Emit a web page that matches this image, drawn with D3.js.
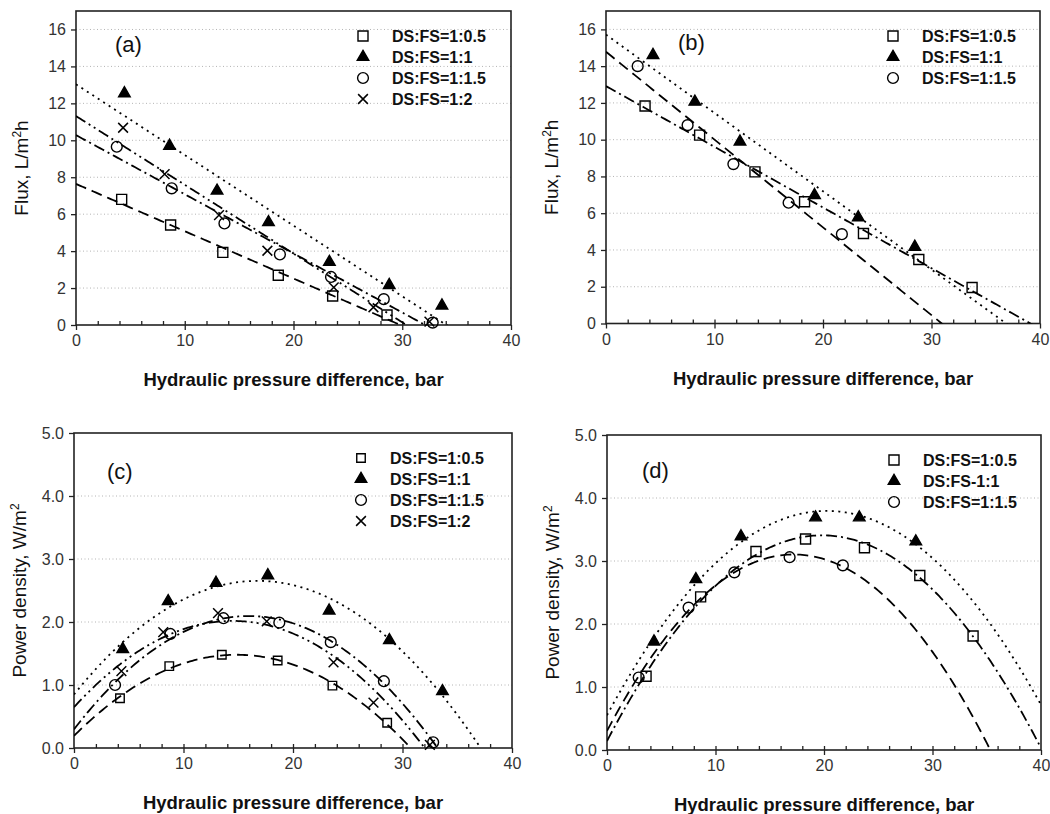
<!DOCTYPE html>
<html>
<head>
<meta charset="utf-8">
<script src="https://cdn.jsdelivr.net/npm/d3@7"></script>
<style>
  body { margin: 0; background: #fff; }
  svg { display: block; font-family: "Liberation Sans", Arial, sans-serif; }
</style>
</head>
<body>
<svg id="chart" width="1050" height="814"></svg>
<script>
// ---- labels / ticks ----
var legendAC = ['DS:FS=1:0.5', 'DS:FS=1:1', 'DS:FS=1:1.5', 'DS:FS=1:2'];
var legendB = ['DS:FS=1:0.5', 'DS:FS=1:1', 'DS:FS=1:1.5'];
var legendD = ['DS:FS=1:0.5', 'DS:FS-1:1', 'DS:FS=1:1.5'];
var xTicks = [0, 10, 20, 30, 40];
var fluxTicks = [0, 2, 4, 6, 8, 10, 12, 14, 16];
var powerTicks = [0, 1, 2, 3, 4, 5];

// ---- set 1 (panels a, c): hydraulic pressure, bar ----
var p1Half = [4.2, 8.7, 13.5, 18.6, 23.6, 28.6];
var p1One = [4.45, 8.6, 12.97, 17.7, 23.3, 28.8, 33.65];
var p1OneHalf = [3.75, 8.8, 13.65, 18.75, 23.45, 28.3, 32.8];
var p1Two = [4.33, 8.15, 13.15, 17.6, 23.7, 27.35, 32.5];

// flux, L/m2h
var j1Half = [6.8, 5.41, 3.93, 2.69, 1.57, 0.54];
var j1One = [12.54, 9.7, 7.27, 5.56, 3.41, 2.16, 1.05];
var j1OneHalf = [9.65, 7.4, 5.5, 3.82, 2.6, 1.4, 0.13];
var j1Two = [10.68, 8.17, 5.95, 4.02, 2.04, 0.96, 0.18];

// power density, W/m2
var w1Half = [0.79, 1.30, 1.48, 1.39, 0.99, 0.40];
var w1One = [1.57, 2.33, 2.62, 2.74, 2.18, 1.71, 0.90];
var w1OneHalf = [1.0, 1.81, 2.06, 1.99, 1.68, 1.06, 0.09];
var w1Two = [1.22, 1.84, 2.14, 2.01, 1.36, 0.72, 0.05];

// ---- set 2 (panels b, d) ----
var p2Half = [3.6, 8.63, 13.73, 18.3, 23.73, 28.83, 33.74];
var p2One = [4.33, 8.19, 12.35, 19.22, 23.25, 28.46];
var p2OneHalf = [2.92, 7.52, 11.74, 16.83, 21.74];

var j2Half = [11.83, 10.25, 8.25, 6.62, 4.9, 3.48, 1.96];
var j2One = [14.6, 12.06, 9.89, 6.98, 5.77, 4.17];
var j2OneHalf = [14.0, 10.79, 8.67, 6.57, 4.86];

var w2Half = [1.17, 2.43, 3.15, 3.35, 3.21, 2.77, 1.81];
var w2One = [1.72, 2.71, 3.39, 3.69, 3.69, 3.31];
var w2OneHalf = [1.15, 2.26, 2.82, 3.06, 2.93];

var DASH = {
    dashed: '11,6',
    dotted: '2,4.5',
    dashDot: '11,4,2,4',
    dashDotDot: '11,4,2,4,2,4'
};

var panels = [
    {
        tag: '(a)', tagX: 39, tagY: 41,
        left: 76, top: 11, right: 511, bottom: 325,
        yMax: 17, yTicks: fluxTicks, yFormat: d3.format('d'), power: false, labels: legendAC,
        series: [
            {x: p1Half, y: j1Half, mark: 'square', dash: 'dashed'},
            {x: p1One, y: j1One, mark: 'triangle', dash: 'dotted'},
            {x: p1OneHalf, y: j1OneHalf, mark: 'circle', dash: 'dashDot'},
            {x: p1Two, y: j1Two, mark: 'cross', dash: 'dashDotDot'}
        ]
    },
    {
        tag: '(b)', tagX: 72, tagY: 39,
        left: 606, top: 11, right: 1040, bottom: 323.5,
        yMax: 17, yTicks: fluxTicks, yFormat: d3.format('d'), power: false, labels: legendB,
        series: [
            {x: p2Half, y: j2Half, mark: 'square', dash: 'dashDot'},
            {x: p2One, y: j2One, mark: 'triangle', dash: 'dotted'},
            {x: p2OneHalf, y: j2OneHalf, mark: 'circle', dash: 'dashed'}
        ]
    },
    {
        tag: '(c)', tagX: 33, tagY: 46,
        left: 74, top: 433, right: 512, bottom: 748,
        yMax: 5, yTicks: powerTicks, yFormat: d3.format('.1f'), power: true, labels: legendAC,
        squareSize: 8.5,
        series: [
            {x: p1Half, y: w1Half, mark: 'square', dash: 'dashed'},
            {x: p1One, y: w1One, mark: 'triangle', dash: 'dotted'},
            {x: p1OneHalf, y: w1OneHalf, mark: 'circle', dash: 'dashDot'},
            {x: p1Two, y: w1Two, mark: 'cross', dash: 'dashDotDot'}
        ]
    },
    {
        tag: '(d)', tagX: 35, tagY: 43,
        left: 607, top: 435, right: 1041, bottom: 750,
        yMax: 5, yTicks: powerTicks, yFormat: d3.format('.1f'), power: true, labels: legendD,
        series: [
            {x: p2Half, y: w2Half, mark: 'square', dash: 'dashDot'},
            {x: p2One, y: w2One, mark: 'triangle', dash: 'dotted'},
            {x: p2OneHalf, y: w2OneHalf, mark: 'circle', dash: 'dashed'}
        ]
    }
];

// least squares polynomial fit, returns coefficients c0..cn
function polyFit(xs, ys, degree) {
    var n = degree + 1;
    var m = [];
    var i, j, k;

    for (i = 0; i < n; i++) {
        m.push([]);
        for (j = 0; j < n; j++) {
            m[i].push(d3.sum(xs, function(x) { return Math.pow(x, i + j); }));
        }
        m[i].push(d3.sum(xs, function(x, idx) { return ys[idx] * Math.pow(x, i); }));
    }

    for (i = 0; i < n; i++) {
        for (k = i + 1; k < n; k++) {
            var f = m[k][i] / m[i][i];
            for (j = i; j <= n; j++) {
                m[k][j] -= f * m[i][j];
            }
        }
    }

    var c = new Array(n);
    for (i = n - 1; i >= 0; i--) {
        var s = m[i][n];
        for (j = i + 1; j < n; j++) {
            s -= m[i][j] * c[j];
        }
        c[i] = s / m[i][i];
    }
    return c;
}

var crossType = {
    draw: function(context, size) {
        var r = Math.sqrt(size) / 2;
        context.moveTo(-r, -r);
        context.lineTo(r, r);
        context.moveTo(r, -r);
        context.lineTo(-r, r);
    }
};

function markPath(type, squareSize) {
    if (type === 'square') {
        return d3.symbol(d3.symbolSquare, squareSize * squareSize)();
    }
    if (type === 'triangle') {
        return d3.symbol(d3.symbolTriangle, 58)();
    }
    if (type === 'circle') {
        return d3.symbol(d3.symbolCircle, 92)();
    }
    return d3.symbol(crossType, 95)();
}

function drawMark(g, type, x, y, squareSize) {
    var filled = type === 'triangle';

    g.append('path')
        .attr('d', markPath(type, squareSize))
        .attr('transform', 'translate(' + x + ',' + y + ')')
        .attr('fill', filled ? '#000' : 'none')
        .attr('stroke', '#000')
        .attr('stroke-width', type === 'cross' ? 1.5 : 1.4);
}

var svg = d3.select('#chart');

panels.forEach(function(panel, pi) {
    var x = d3.scaleLinear().domain([0, 40]).range([panel.left, panel.right]);
    var y = d3.scaleLinear().domain([0, panel.yMax]).range([panel.bottom, panel.top]);
    var g = svg.append('g');
    var clipId = 'clip' + pi;
    var squareSize = panel.squareSize || 10;

    g.append('clipPath').attr('id', clipId)
        .append('rect')
        .attr('x', panel.left).attr('y', panel.top)
        .attr('width', panel.right - panel.left)
        .attr('height', panel.bottom - panel.top);

    // grid
    g.append('g').selectAll('line')
        .data(panel.yTicks.filter(function(t) { return t > 0 && t < panel.yMax; }))
        .join('line')
        .attr('x1', panel.left).attr('x2', panel.right)
        .attr('y1', function(d) { return y(d); })
        .attr('y2', function(d) { return y(d); })
        .attr('stroke', '#b4b4b4')
        .attr('stroke-width', 1)
        .attr('stroke-dasharray', '1,2.5');

    // axes
    var xAxis = g.append('g')
        .attr('transform', 'translate(0,' + panel.bottom + ')')
        .call(d3.axisBottom(x).tickValues(xTicks).tickSize(5).tickPadding(5).tickFormat(d3.format('d')));
    var xMinor = g.append('g')
        .attr('transform', 'translate(0,' + panel.bottom + ')')
        .call(d3.axisTop(x).tickValues(d3.range(2, 40, 2)).tickSize(4).tickFormat(''));
    var yAxis = g.append('g')
        .attr('transform', 'translate(' + panel.left + ',0)')
        .call(d3.axisLeft(y).tickValues(panel.yTicks).tickSize(5).tickPadding(5).tickFormat(panel.yFormat));

    [xAxis, xMinor, yAxis].forEach(function(a) {
        a.select('.domain').remove();
        a.selectAll('line').attr('stroke', '#222').attr('stroke-width', 1.3);
        a.selectAll('text')
            .attr('fill', '#333')
            .style('font-size', '16px')
            .style('font-family', '"Liberation Sans", Arial, sans-serif');
    });

    // frame
    g.append('rect')
        .attr('x', panel.left).attr('y', panel.top)
        .attr('width', panel.right - panel.left)
        .attr('height', panel.bottom - panel.top)
        .attr('fill', 'none')
        .attr('stroke', '#222')
        .attr('stroke-width', 1.6);

    // fitted lines: linear for flux, quadratic for power density
    var samples = d3.range(0, 40.001, 0.2);
    var line = d3.line()
        .x(function(d) { return x(d[0]); })
        .y(function(d) { return y(d[1]); });
    var lines = g.append('g').attr('clip-path', 'url(#' + clipId + ')');

    panel.series.forEach(function(s) {
        var c = polyFit(s.x, s.y, panel.power ? 2 : 1);
        var pts = samples.map(function(v) {
            var val = 0;
            c.forEach(function(ci, k) { val += ci * Math.pow(v, k); });
            return [v, val];
        });

        lines.append('path')
            .attr('d', line(pts))
            .attr('fill', 'none')
            .attr('stroke', '#000')
            .attr('stroke-width', 1.8)
            .attr('stroke-dasharray', DASH[s.dash]);
    });

    // markers
    var marks = g.append('g');
    panel.series.forEach(function(s) {
        s.x.forEach(function(v, k) {
            drawMark(marks, s.mark, x(v), y(s.y[k]), squareSize);
        });
    });

    // legend
    var legend = g.append('g');
    panel.labels.forEach(function(label, k) {
        var ly = panel.top + 25 + k * 21;
        var lx = panel.left + 287;

        drawMark(legend, panel.series[k].mark, lx, ly, squareSize);
        legend.append('text')
            .attr('x', lx + 29)
            .attr('y', ly)
            .attr('dy', '0.36em')
            .style('font-size', '16px')
            .style('font-weight', 'bold')
            .attr('fill', '#111')
            .text(label);
    });

    // panel tag
    g.append('text')
        .attr('x', panel.left + panel.tagX)
        .attr('y', panel.top + panel.tagY)
        .style('font-size', '22px')
        .attr('fill', '#111')
        .text(panel.tag);

    // axis titles
    g.append('text')
        .attr('x', (panel.left + panel.right) / 2)
        .attr('y', panel.bottom + 61)
        .attr('text-anchor', 'middle')
        .style('font-size', '18.5px')
        .style('font-weight', 'bold')
        .attr('fill', '#111')
        .text('Hydraulic pressure difference, bar');

    var yt = g.append('text')
        .attr('transform', 'translate(' + (panel.left - 48) + ',' + ((panel.top + panel.bottom) / 2) + ') rotate(-90)')
        .attr('text-anchor', 'middle')
        .style('font-size', '19px')
        .attr('fill', '#111');

    if (panel.power) {
        yt.append('tspan').text('Power density, W/m');
        yt.append('tspan').attr('dy', -7).style('font-size', '12px').text('2');
    } else {
        yt.append('tspan').text('Flux, L/m');
        yt.append('tspan').attr('dy', -7).style('font-size', '12px').text('2');
        yt.append('tspan').attr('dy', 7).text('h');
    }
});
</script>
</body>
</html>
